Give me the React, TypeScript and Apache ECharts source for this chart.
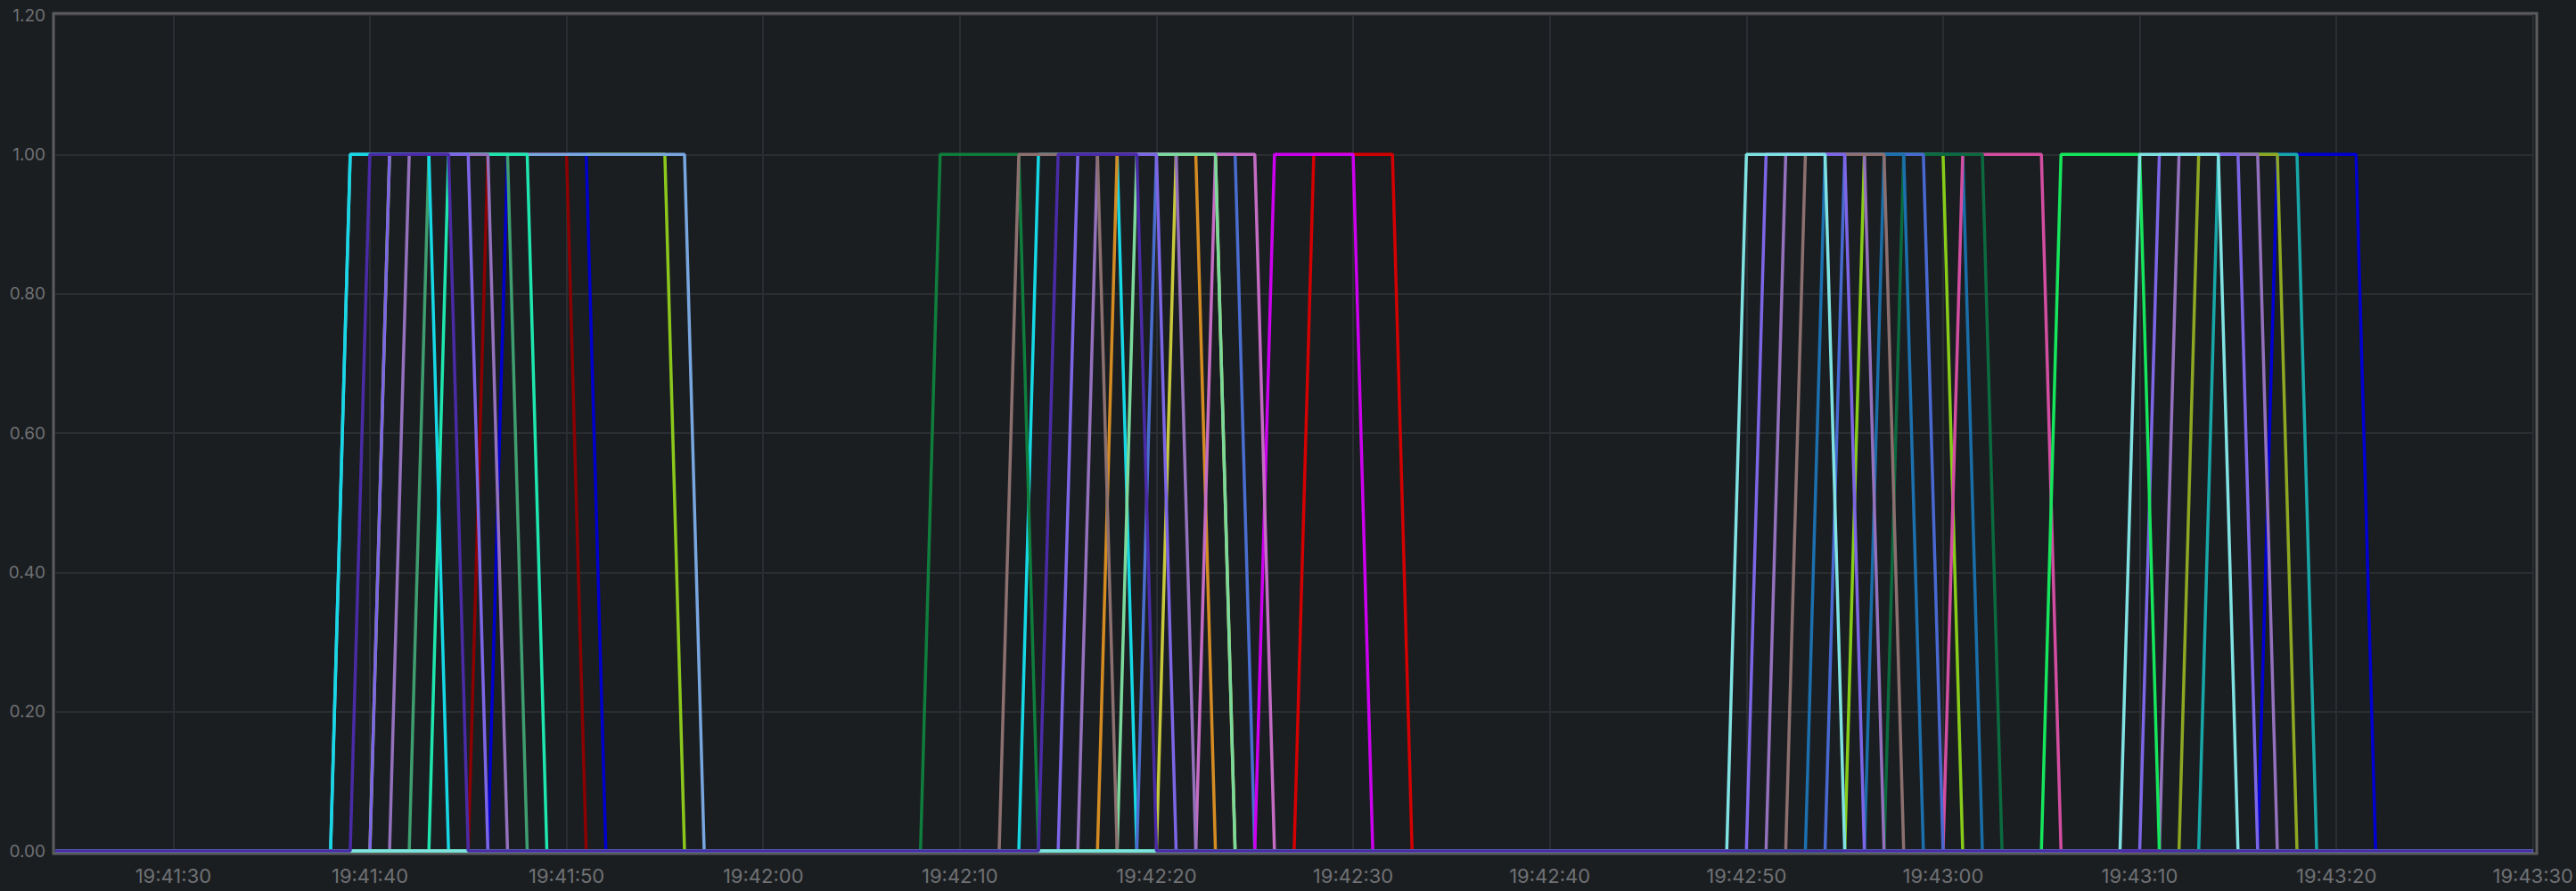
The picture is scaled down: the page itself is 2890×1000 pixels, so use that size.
import React, { useEffect, useRef } from "react";
import * as echarts from "echarts";

// ---- Data (times, 1-second samples) ----
const axisStart = "19:41:24";
const axisEnd = "19:43:30";
const xTickLabels = [
  "19:41:30", "19:41:40", "19:41:50", "19:42:00", "19:42:10", "19:42:20", "19:42:30",
  "19:42:40", "19:42:50", "19:43:00", "19:43:10", "19:43:20", "19:43:30",
];
const yTicks = [0, 0.2, 0.4, 0.6, 0.8, 1.0, 1.2];

// every pulse: [last 0 sample, first 1 sample, last 1 sample, first 0 sample]
const pulseLevels = [0, 1, 1, 0];
const baseLevel = 0;

const yellowGreenA = [["19:41:40", "19:41:41", "19:41:55", "19:41:56"]];
const blueA = [["19:41:46", "19:41:47", "19:41:51", "19:41:52"]];
const darkRedA = [["19:41:45", "19:41:46", "19:41:50", "19:41:51"]];
const lightBlueA = [["19:41:38", "19:41:39", "19:41:56", "19:41:57"]];
const seaGreenA = [["19:41:42", "19:41:43", "19:41:47", "19:41:48"]];
const aquamarineA = [["19:41:43", "19:41:44", "19:41:48", "19:41:49"]];
const cyan = [
  ["19:41:38", "19:41:39", "19:41:43", "19:41:44"],
  ["19:42:13", "19:42:14", "19:42:18", "19:42:19"],
];
const orangeB = [["19:42:17", "19:42:18", "19:42:22", "19:42:23"]];
const yellowB = [["19:42:20", "19:42:21", "19:42:23", "19:42:24"]];
const steelBlueB = [["19:42:19", "19:42:20", "19:42:24", "19:42:25"]];
const redB = [["19:42:27", "19:42:28", "19:42:32", "19:42:33"]];
const magentaB = [["19:42:25", "19:42:26", "19:42:30", "19:42:31"]];
const orchidB = [["19:42:22", "19:42:23", "19:42:25", "19:42:26"]];
const blueD = [["19:43:16", "19:43:17", "19:43:21", "19:43:22"]];
const tealD = [["19:43:13", "19:43:14", "19:43:18", "19:43:19"]];
const oliveD = [["19:43:12", "19:43:13", "19:43:17", "19:43:18"]];
const yellowGreenC = [["19:42:55", "19:42:56", "19:43:00", "19:43:01"]];
const azureC2 = [["19:42:56", "19:42:57", "19:43:01", "19:43:02"]];
const pinkC = [["19:43:00", "19:43:01", "19:43:05", "19:43:06"]];
const darkGreenC = [["19:42:57", "19:42:58", "19:43:02", "19:43:03"]];
const steelBlueC = [["19:42:54", "19:42:55", "19:42:59", "19:43:00"]];
const azureC1 = [["19:42:53", "19:42:54", "19:42:58", "19:42:59"]];
const mauve = [
  ["19:41:41", "19:41:42", "19:41:46", "19:41:47"],
  ["19:42:16", "19:42:17", "19:42:21", "19:42:22"],
  ["19:42:51", "19:42:52", "19:42:56", "19:42:57"],
  ["19:43:11", "19:43:12", "19:43:16", "19:43:17"],
];
const lightGreenB = [["19:42:18", "19:42:19", "19:42:23", "19:42:24"]];
const darkGreenB = [["19:42:08", "19:42:09", "19:42:13", "19:42:14"]];
const rosyBrown = [
  ["19:42:12", "19:42:13", "19:42:17", "19:42:18"],
  ["19:42:52", "19:42:53", "19:42:57", "19:42:58"],
];
const purple = [
  ["19:41:40", "19:41:41", "19:41:45", "19:41:46"],
  ["19:42:15", "19:42:16", "19:42:20", "19:42:21"],
  ["19:42:50", "19:42:51", "19:42:55", "19:42:56"],
  ["19:43:10", "19:43:11", "19:43:15", "19:43:16"],
];
const brightGreenD = [["19:43:05", "19:43:06", "19:43:10", "19:43:11"]];
const paleCyan = [
  ["19:42:49", "19:42:50", "19:42:54", "19:42:55"],
  ["19:43:09", "19:43:10", "19:43:14", "19:43:15"],
];
const indigo = [
  ["19:41:39", "19:41:40", "19:41:44", "19:41:45"],
  ["19:42:14", "19:42:15", "19:42:19", "19:42:20"],
];

// drawing order: first = bottom, last = top
const seriesDefs = [
  { name: "yellowgreen-a", color: "#8cc81c", pulses: yellowGreenA },
  { name: "blue-a", color: "#0000cd", pulses: blueA },
  { name: "darkred-a", color: "#8b0000", pulses: darkRedA },
  { name: "lightblue-a", color: "#78a6de", pulses: lightBlueA },
  { name: "seagreen-a", color: "#3e9e6f", pulses: seaGreenA },
  { name: "aquamarine-a", color: "#1ee6ae", pulses: aquamarineA },
  { name: "cyan", color: "#16d8e4", pulses: cyan },
  { name: "orange-b", color: "#d48c22", pulses: orangeB },
  { name: "yellow-b", color: "#c8c83c", pulses: yellowB },
  { name: "steelblue-b", color: "#4a6ecf", pulses: steelBlueB },
  { name: "red-b", color: "#d40000", pulses: redB },
  { name: "magenta-b", color: "#cc00ee", pulses: magentaB },
  { name: "orchid-b", color: "#c46cc4", pulses: orchidB },
  { name: "blue-d", color: "#0000d0", pulses: blueD },
  { name: "teal-d", color: "#18a7a8", pulses: tealD },
  { name: "olive-d", color: "#8fa822", pulses: oliveD },
  { name: "yellowgreen-c", color: "#88cc1a", pulses: yellowGreenC },
  { name: "azure-c2", color: "#1a6ea8", pulses: azureC2 },
  { name: "pink-c", color: "#d24ea0", pulses: pinkC },
  { name: "darkgreen-c", color: "#0b6a3e", pulses: darkGreenC },
  { name: "steelblue-c", color: "#4869d0", pulses: steelBlueC },
  { name: "azure-c1", color: "#1c70ae", pulses: azureC1 },
  { name: "mauve", color: "#9371bd", pulses: mauve },
  { name: "lightgreen-b", color: "#7bd99b", pulses: lightGreenB },
  { name: "darkgreen-b", color: "#0f7d3c", pulses: darkGreenB },
  { name: "rosybrown", color: "#8c7070", pulses: rosyBrown },
  { name: "purple", color: "#7d66e6", pulses: purple },
  { name: "brightgreen-d", color: "#16e65c", pulses: brightGreenD },
  { name: "palecyan", color: "#80e2e2", pulses: paleCyan },
  { name: "indigo", color: "#4a2ba6", pulses: indigo },
];

function ts(hms: string): number {
  const [h, m, s] = hms.split(":").map(Number);
  return new Date(2024, 0, 1, h, m, s).getTime();
}

function fmt(v: number): string {
  const d = new Date(v);
  const p = (n: number) => String(n).padStart(2, "0");
  return `${p(d.getHours())}:${p(d.getMinutes())}:${p(d.getSeconds())}`;
}

function buildData(pulses: string[][]) {
  const data: [number, number][] = [[ts(axisStart), baseLevel]];
  pulses.forEach((p) => {
    p.forEach((t, i) => data.push([ts(t), pulseLevels[i]]));
  });
  data.push([ts(axisEnd), baseLevel]);
  return data;
}

export default function App() {
  const ref = useRef<HTMLDivElement>(null);

  useEffect(() => {
    document.body.style.margin = "0";
    document.body.style.background = "#1b1e21";
    if (!ref.current) return;
    const chart = echarts.init(ref.current, undefined, { renderer: "svg" });
    const labelColor = "#6f7174";
    const gridColor = "#2a2d31";
    const tickValues = xTickLabels.map(ts);
    chart.setOption({
      animation: false,
      backgroundColor: "#1b1e21",
      grid: { left: 62, right: 45, top: 17, bottom: 45, containLabel: false },
      xAxis: {
        type: "value",
        min: ts(axisStart),
        max: ts(axisEnd),
        scale: true,
        axisLine: { show: false },
        axisTick: { show: false, customValues: tickValues },
        axisLabel: {
          customValues: tickValues,
          formatter: (v: number) => fmt(v),
          color: labelColor,
          fontSize: 22,
          fontFamily: "Inter",
          margin: 17,
          hideOverlap: false,
        },
        splitLine: { show: true, lineStyle: { color: gridColor, width: 2 } },
      },
      yAxis: {
        type: "value",
        min: yTicks[0],
        max: yTicks[yTicks.length - 1],
        interval: 0.2,
        axisLine: { show: false },
        axisTick: { show: false },
        axisLabel: {
          formatter: (v: number) => v.toFixed(2),
          color: labelColor,
          fontSize: 19,
          fontFamily: "Inter",
          margin: 11,
        },
        splitLine: { show: true, lineStyle: { color: gridColor, width: 2 } },
      },
      graphic: [
        {
          type: "rect",
          z: 1,
          silent: true,
          shape: { x: 60, y: 15, width: 2786, height: 943 },
          style: { fill: "none", stroke: "#5c5c5c", lineWidth: 3 },
        },
      ],
      series: seriesDefs.map((s) => ({
        name: s.name,
        type: "line",
        data: buildData(s.pulses),
        showSymbol: false,
        symbol: "none",
        clip: false,
        silent: true,
        lineStyle: { color: s.color, width: 3.5 },
        itemStyle: { color: s.color },
        emphasis: { disabled: true },
        z: 3,
      })),
    });
    return () => chart.dispose();
  }, []);

  return <div ref={ref} style={{ width: 2890, height: 1000 }} />;
}
